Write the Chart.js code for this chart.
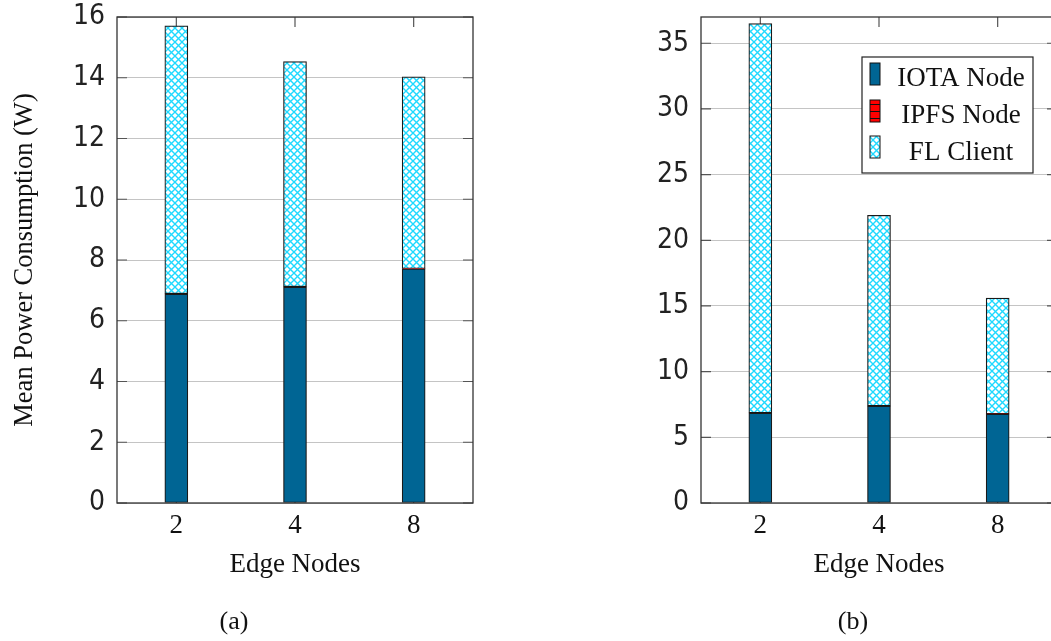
<!DOCTYPE html>
<html>
<head>
<meta charset="utf-8">
<script src="https://cdn.jsdelivr.net/npm/chart.js@4.4.1/dist/chart.umd.min.js"></script>
<style>
  body { margin: 0; width: 1051px; height: 641px; overflow: hidden; background: #fff; position: relative; }
  .box { position: absolute; top: 0; }
  .cap { position: absolute; top: 606px; font: 26px "Liberation Serif", serif; color: #111; transform: translateX(-50%); }
</style>
</head>
<body>
<div class="box" style="left:0"><canvas id="chartA" width="490" height="641"></canvas></div>
<div class="box" style="left:600px"><canvas id="chartB" width="470" height="641"></canvas></div>
<div class="cap" style="left:234px">(a)</div>
<div class="cap" style="left:853px">(b)</div>
<script>
// data
var edgeNodes = ['2', '4', '8'];
var seriesNames = ['IOTA Node', 'IPFS Node', 'FL Client'];

var iotaA = [6.88, 7.11, 7.71];
var ipfsA = [0.01, 0.01, 0.01];
var flA   = [8.82, 7.41, 6.31];

var iotaB = [6.85, 7.38, 6.77];
var ipfsB = [0.02, 0.02, 0.02];
var flB   = [29.63, 14.50, 8.81];

var yTitle = 'Mean Power Consumption (W)';
var xTitle = 'Edge Nodes';

var serif = '"Liberation Serif", serif';
var narrow = '"Liberation Sans Narrow", "DejaVu Sans Condensed", "Liberation Sans", sans-serif';
var blue = '#006594';

function hatchPattern() {
  var c = document.createElement('canvas');
  c.width = 7; c.height = 7;
  var g = c.getContext('2d');
  g.fillStyle = '#fff';
  g.fillRect(0, 0, 7, 7);
  g.strokeStyle = '#1fd9ff';
  g.lineWidth = 1.4;
  g.beginPath();
  g.moveTo(-1, -1); g.lineTo(8, 8);
  g.moveTo(8, -1); g.lineTo(-1, 8);
  g.stroke();
  return g.createPattern(c, 'repeat');
}

function stripePattern() {
  var c = document.createElement('canvas');
  c.width = 4; c.height = 7;
  var g = c.getContext('2d');
  g.fillStyle = '#ff0000';
  g.fillRect(0, 0, 4, 7);
  g.fillStyle = '#111';
  g.fillRect(0, 6, 4, 1.3);
  return g.createPattern(c, 'repeat');
}

var hatch = hatchPattern();
var stripes = stripePattern();

// frame + inward tick marks
var framePlugin = {
  id: 'frame',
  beforeDatasetsDraw: function(chart) {
    var ctx = chart.ctx, a = chart.chartArea;
    var xs = chart.scales.x, ys = chart.scales.y;
    ctx.save();
    ctx.strokeStyle = '#555';
    ctx.lineWidth = 1.2;
    ctx.beginPath();
    for (var i = 0; i < xs.ticks.length; i++) {
      var px = xs.getPixelForTick(i);
      ctx.moveTo(px, a.bottom); ctx.lineTo(px, a.bottom - 10);
      ctx.moveTo(px, a.top); ctx.lineTo(px, a.top + 10);
    }
    for (var j = 0; j < ys.ticks.length; j++) {
      var py = ys.getPixelForValue(ys.ticks[j].value);
      ctx.moveTo(a.left, py); ctx.lineTo(a.left + 10, py);
      ctx.moveTo(a.right, py); ctx.lineTo(a.right - 10, py);
    }
    ctx.stroke();
    ctx.restore();
  },
  afterDatasetsDraw: function(chart) {
    var ctx = chart.ctx, a = chart.chartArea;
    ctx.save();
    ctx.strokeStyle = '#333';
    ctx.lineWidth = 1.3;
    ctx.strokeRect(a.left, a.top, a.right - a.left, a.bottom - a.top);
    ctx.restore();
  }
};

// boxed legend in the top right corner
var boxLegend = {
  id: 'boxLegend',
  afterDraw: function(chart, args, opts) {
    if (!opts.show) return;
    var ctx = chart.ctx, a = chart.chartArea;
    var w = 171, h = 116;
    var left = a.right - 24 - w, top = a.top + 40;
    ctx.save();
    ctx.fillStyle = '#fff';
    ctx.fillRect(left, top, w, h);
    ctx.strokeStyle = '#222';
    ctx.lineWidth = 1.2;
    ctx.strokeRect(left, top, w, h);
    var swatchY = [6, 43, 79];
    var baseY = [29, 66, 103];
    ctx.font = '27px ' + serif;
    ctx.textAlign = 'center';
    ctx.textBaseline = 'alphabetic';
    chart.data.datasets.forEach(function(ds, i) {
      ctx.fillStyle = ds.backgroundColor;
      ctx.fillRect(left + 8, top + swatchY[i], 10, 22);
      ctx.strokeStyle = '#111';
      ctx.lineWidth = 1;
      ctx.strokeRect(left + 8, top + swatchY[i], 10, 22);
      ctx.fillStyle = '#111';
      ctx.fillText(ds.label, left + 99, top + baseY[i]);
    });
    ctx.restore();
  }
};

function makeChart(id, iota, ipfs, fl, yMax, step, yAxisWidth, rightPad, showTitle, showLegend) {
  var ctx = document.getElementById(id);
  return new Chart(ctx, {
    type: 'bar',
    data: {
      labels: edgeNodes,
      datasets: [
        { label: seriesNames[0], data: iota, backgroundColor: blue },
        { label: seriesNames[1], data: ipfs, backgroundColor: stripes },
        { label: seriesNames[2], data: fl, backgroundColor: hatch }
      ]
    },
    options: {
      responsive: false,
      animation: false,
      devicePixelRatio: 1,
      layout: { padding: { top: 17, right: rightPad, bottom: 56, left: 0 } },
      datasets: {
        bar: { barThickness: 23, borderColor: '#1a1a1a', borderWidth: 1.2, borderSkipped: false }
      },
      plugins: {
        legend: { display: false },
        tooltip: { enabled: false },
        boxLegend: { show: showLegend }
      },
      scales: {
        x: {
          stacked: true,
          offset: true,
          grid: { display: false, drawTicks: false },
          border: { display: false },
          ticks: { color: '#111', font: { family: serif, size: 27 }, padding: 7 },
          title: { display: true, text: xTitle, color: '#111', font: { family: serif, size: 27 }, padding: { top: 0, bottom: 4 } },
          afterFit: function(s) { s.height = 82; }
        },
        y: {
          stacked: true,
          min: 0,
          max: yMax,
          grid: { color: '#c4c4c4', lineWidth: 1, drawTicks: false },
          border: { display: false },
          ticks: { stepSize: step, includeBounds: false, color: '#222', font: { family: narrow, size: 28 }, padding: 12 },
          title: { display: showTitle, text: yTitle, color: '#111', font: { family: serif, size: 26.5 }, padding: { top: 9, bottom: 0 } },
          afterFit: function(s) { s.width = yAxisWidth; s.paddingTop = 0; s.paddingBottom = 0; }
        }
      }
    },
    plugins: [framePlugin, boxLegend]
  });
}

makeChart('chartA', iotaA, ipfsA, flA, 16, 2, 117, 17, true, false);
makeChart('chartB', iotaB, ipfsB, flB, 37, 5, 101, 13, false, true);
</script>
</body>
</html>
